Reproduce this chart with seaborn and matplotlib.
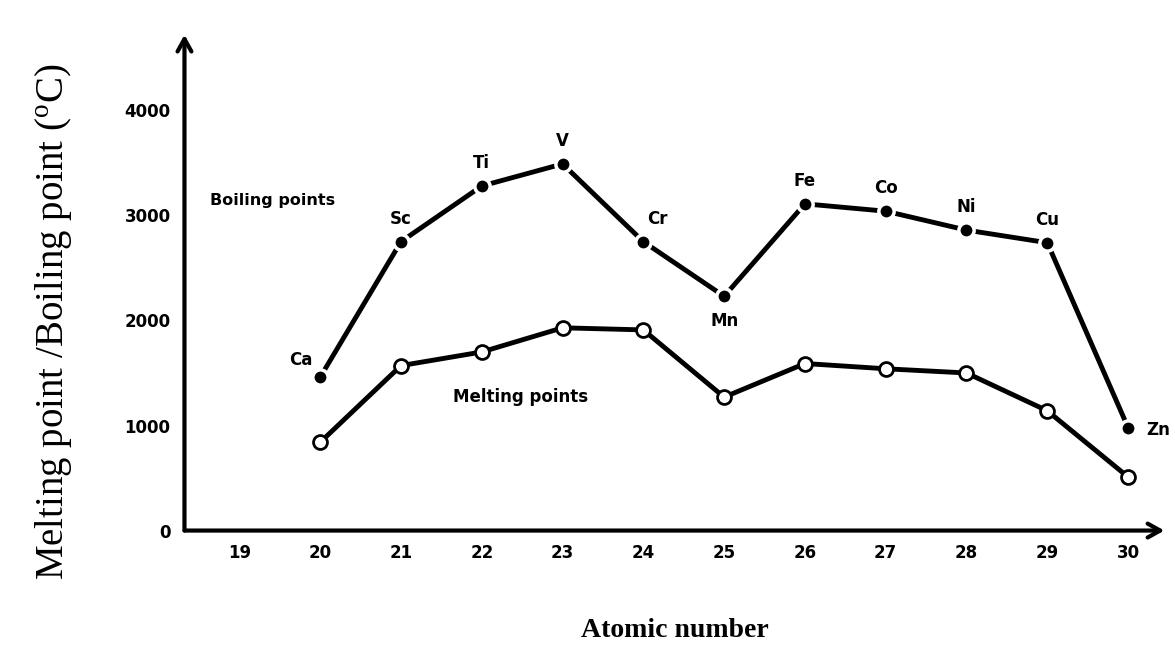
import matplotlib
matplotlib.use("Agg")
import matplotlib.pyplot as plt
import seaborn as sns
import pandas as pd

# data
atomic_number = [20, 21, 22, 23, 24, 25, 26, 27, 28, 29, 30]
elements = ["Ca", "Sc", "Ti", "V", "Cr", "Mn", "Fe", "Co", "Ni", "Cu", "Zn"]
boiling = [1460, 2750, 3280, 3490, 2750, 2230, 3110, 3040, 2860, 2740, 980]
melting = [840, 1570, 1700, 1930, 1910, 1270, 1590, 1540, 1500, 1140, 510]
x_ticks = list(range(19, 31))
y_ticks = [0, 1000, 2000, 3000, 4000]

df = pd.DataFrame({"Z": atomic_number, "element": elements,
                   "boiling": boiling, "melting": melting})

sns.set_style("white")
plt.rcParams["font.family"] = ["DejaVu Sans"]
plt.rcParams["text.color"] = "black"
plt.rcParams["axes.labelcolor"] = "black"
plt.rcParams["xtick.color"] = "black"
plt.rcParams["ytick.color"] = "black"

fig = plt.figure(figsize=(11.75, 6.55), dpi=100)
ax = fig.add_axes([0.157, 0.19, 0.834, 0.757])

# boiling points: filled dots, white edge gives the small gaps of the print
sns.lineplot(data=df, x="Z", y="boiling", ax=ax, color="black", lw=3.5,
             marker="o", markersize=11, markerfacecolor="black",
             markeredgecolor="white", markeredgewidth=2.5)
# melting points: open circles
sns.lineplot(data=df, x="Z", y="melting", ax=ax, color="black", lw=3.5,
             marker="o", markersize=10, markerfacecolor="white",
             markeredgecolor="black", markeredgewidth=2)

# element labels
offsets = {"Ca": (-14, 6), "Sc": (0, 10), "Ti": (0, 10), "V": (0, 10),
           "Cr": (10, 10), "Mn": (0, -24), "Fe": (0, 10), "Co": (0, 10),
           "Ni": (0, 10), "Cu": (0, 10), "Zn": (22, -8)}
for z, el, b in zip(atomic_number, elements, boiling):
    dx, dy = offsets[el]
    ax.annotate(el, (z, b), xytext=(dx, dy), textcoords="offset points",
                ha="center", va="bottom", fontsize=12, fontweight="bold")

ax.text(18.63, 3140, "Boiling points", fontsize=11.5, fontweight="bold",
        va="center")
ax.text(21.65, 1270, "Melting points", fontsize=12, fontweight="bold",
        va="center")

ax.set_xlim(18.32, 30.45)
ax.set_ylim(0, 4720)
ax.set_xticks(x_ticks)
ax.set_yticks(y_ticks)
ax.tick_params(axis="both", direction="in", length=8, width=2,
               labelsize=12, pad=10)
for lab in ax.get_xticklabels() + ax.get_yticklabels():
    lab.set_fontweight("bold")

sns.despine(ax=ax)
ax.spines["left"].set_visible(False)
ax.spines["bottom"].set_visible(False)
# axes drawn as arrows
ax.annotate("", xy=(0, 1), xytext=(0, 0), xycoords="axes fraction",
            arrowprops=dict(arrowstyle="->,head_length=0.9,head_width=0.5",
                            lw=3, color="black", shrinkA=0, shrinkB=0))
ax.annotate("", xy=(1, 0), xytext=(0, 0), xycoords="axes fraction",
            arrowprops=dict(arrowstyle="->,head_length=0.9,head_width=0.5",
                            lw=3, color="black", shrinkA=0, shrinkB=0))

ax.set_ylabel("Melting point /Boiling point ($^\\mathregular{o}$C)",
              family="Liberation Serif", fontsize=28)
ax.yaxis.set_label_coords(-0.112, 0.42)
ax.set_xlabel("Atomic number", family="Liberation Serif", fontsize=20,
              fontweight="bold", labelpad=40)

fig.savefig("out.png", dpi=100)
